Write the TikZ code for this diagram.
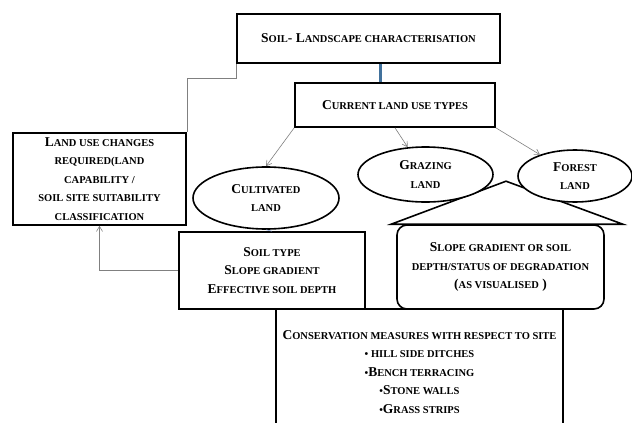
\documentclass[tikz,border=0pt]{standalone}
\usepackage{fontspec}
\setmainfont{Liberation Serif}
\usepackage{tikz}
\usetikzlibrary{shapes.geometric, arrows.meta, positioning, calc}
\definecolor{linkgray}{HTML}{808080}
\definecolor{linkblue}{HTML}{41719C}
\definecolor{tickblue}{HTML}{8EA9DB}
\newcommand{\sC}[1]{{\fontsize{10.5}{18.5}\selectfont\MakeUppercase{#1}}}

\begin{document}
\begin{tikzpicture}[
    x=1pt, y=-1pt,
    every node/.style={font=\fontsize{13.5}{18.5}\selectfont\bfseries},
    box/.style={
        rectangle,
        draw=black,
        fill=white,
        line width=1.6pt,
        inner sep=0pt,
        align=center
    },
    oval/.style={
        ellipse,
        draw=black,
        fill=white,
        line width=1.6pt,
        inner sep=0pt,
        align=center
    },
    myarrow/.style={
        ->,
        >={Straight Barb[length=5pt,width=6pt]},
        line width=0.6pt,
        draw=linkgray
    },
    myline/.style={
        line width=0.6pt,
        draw=linkgray
    }
]
\path[use as bounding box, fill=white] (0,0) rectangle (632,423);

% Top: landscape and current use
\node[box, minimum width=263, minimum height=49] (top) at (368.5,38.5)
    {S\sC{oil}- L\sC{andscape characterisation}};
\node[box, minimum width=200, minimum height=44] (cur) at (395,105)
    {C\sC{urrent land use types}};

% Left: land use changes
\node[box, minimum width=173, minimum height=92] (land) at (99.5,179)
    {L\sC{and use changes}\\ \sC{required(land}\\ \sC{capability /}\\
     \sC{soil site suitability}\\ \sC{classification}};

% Middle row: site boxes
\node[box, minimum width=186, minimum height=77] (soil) at (272,270.5)
    {S\sC{oil type}\\ S\sC{lope gradient}\\ E\sC{ffective soil depth}};
\node[box, rounded corners=10pt, minimum width=207, minimum height=84] (slope) at (500.5,267)
    {S\sC{lope gradient or soil}\\ \sC{depth/status of degradation}\\ (\sC{as visualised} )};

% Roof over the slope box
\draw[line width=1.6pt] ([xshift=-5pt]slope.north west)
    -- ([xshift=5.5pt, yshift=43pt]slope.north)
    -- ([xshift=18pt]slope.north east) -- cycle;

% Bottom: conservation measures
\node[box, minimum width=287, minimum height=126] (cons) at (419.5,372)
    {C\sC{onservation measures with respect to site}\\ \sC{\textbullet\ hill side ditches}\\
     \sC{\textbullet}B\sC{ench terracing}\\ \sC{\textbullet}S\sC{tone walls}\\
     \sC{\textbullet}G\sC{rass strips}};

% Land use types
\node[oval, minimum width=146, minimum height=62] (cult) at (266,198)
    {C\sC{ultivated}\\ \sC{land}};
\node[oval, minimum width=135, minimum height=55] (graz) at (425.5,174.5)
    {G\sC{razing}\\ \sC{land}};
\node[oval, minimum width=114, minimum height=52] (forest) at (575,176)
    {F\sC{orest}\\ \sC{land}};

% Arrows
\draw[line width=3pt, draw=linkblue] ([xshift=11.5pt]top.south) -- ([xshift=11.5pt]top.south |- cur.north);
\draw[myarrow] (cur.south west) -- (cult.north);
\draw[myarrow] (cur.south) -- (graz);
\draw[myarrow] (cur.south east) -- (forest);
\draw[line width=0.6pt, draw=tickblue] (cult.south) -- (soil.north);

% Feedback paths
\draw[myline] (top.south west) -- ++(0,14) -| (land.north east);
\draw[myarrow] (soil.west) -| (land.south);

\end{tikzpicture}
\end{document}
